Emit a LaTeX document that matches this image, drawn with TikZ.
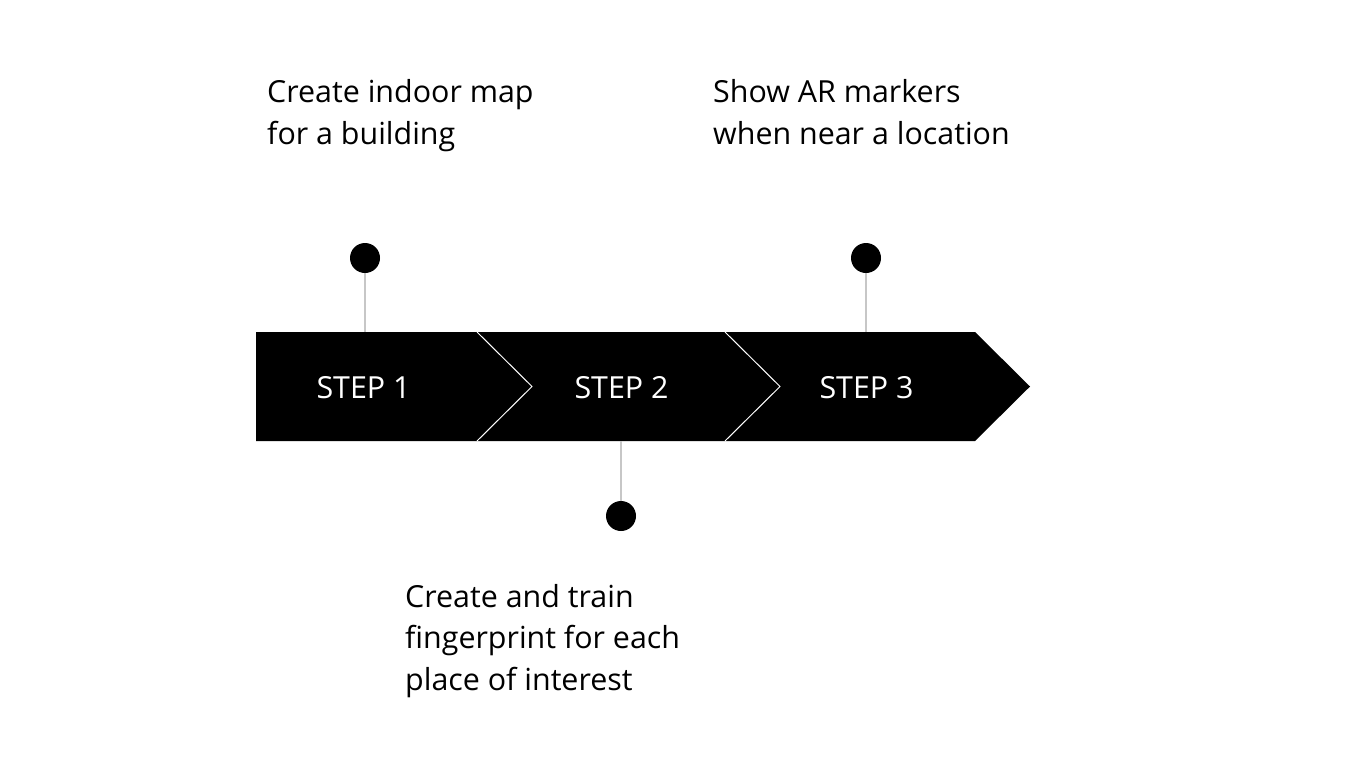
\documentclass[tikz,border=0pt]{standalone}
\usepackage{fontspec}
\setmainfont{Open Sans}
\begin{document}
\begin{tikzpicture}[x=1pt,y=-1pt,
  lbl/.style={anchor=base west,inner sep=0pt,align=left,font=\fontsize{30.4}{41.5}\selectfont,text=black},
  steplbl/.style={inner sep=0pt,anchor=base,font=\fontsize{30.4}{36}\selectfont,text=white},
  dot/.style={circle,fill=black,minimum size=30pt,inner sep=0pt},
  stem/.style={draw=black!22,line width=1.4pt},
  sep/.style={draw=white,line width=1pt}]
\useasboundingbox (0,0) rectangle (1359,761);
% band
\fill[black] (256,332) -- (975,332) -- (1030,386.5) -- (975,441) -- (256,441) -- cycle;
\draw[sep] (477,332) -- (532,386.5) -- (477,441);
\draw[sep] (725,332) -- (780,386.5) -- (725,441);
% band attachment points
\coordinate (b1) at (365,332);
\coordinate (b2) at (621,441);
\coordinate (b3) at (866,332);
% dots
\node[dot] (d1) at (365,258) {};
\node[dot] (d2) at (621,516) {};
\node[dot] (d3) at (866,258) {};
\draw[stem] (d1) -- (b1);
\draw[stem] (d2) -- (b2);
\draw[stem] (d3) -- (b3);
% step labels
\node[steplbl] (s1) at (363.5,398) {STEP 1};
\node[steplbl] (s2) at (621.5,398) {STEP 2};
\node[steplbl] (s3) at (866.5,398) {STEP 3};
% texts (anchored at the baseline of the last line)
\node[lbl] (t1) at (267,144) {Create indoor map\\for a building};
\node[lbl] (t3) at (713,144) {Show AR markers\\when near a location};
\node[lbl] (t2) at (405,690) {Create and train\\fingerprint for each\\place of interest};
\end{tikzpicture}
\end{document}
